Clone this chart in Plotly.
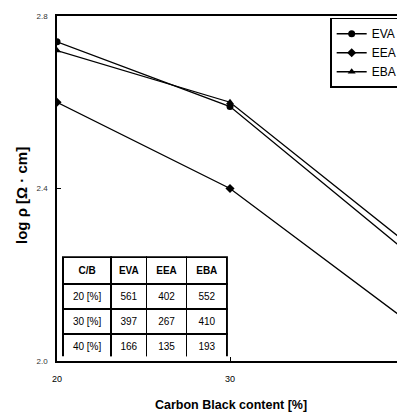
import plotly.graph_objects as go

carbon_black = [20, 30, 40]
eva = [2.74, 2.59, 2.26]
eea = [2.60, 2.40, 2.10]
eba = [2.72, 2.60, 2.28]

table_header = ["<b>C/B</b>", "<b>EVA</b>", "<b>EEA</b>", "<b>EBA</b>"]
table_cb = ["20 [%]", "30 [%]", "40 [%]"]
table_eva = [561, 397, 166]
table_eea = [402, 267, 135]
table_eba = [552, 410, 193]

fig = go.Figure()
series = [("EVA", eva, "circle"), ("EEA", eea, "diamond"), ("EBA", eba, "triangle-up")]
for name, vals, sym in series:
    fig.add_trace(go.Scatter(
        x=carbon_black, y=vals, name=name, mode="lines+markers",
        line=dict(color="black", width=1.3),
        marker=dict(symbol=sym, size=7, color="black"),
        cliponaxis=True,
    ))

fig.add_trace(go.Table(
    domain=dict(x=[0.017, 0.489], y=[0.012, 0.301]),
    columnwidth=[48, 35, 40, 40],
    header=dict(values=table_header, height=25, align="center",
                line=dict(color="black", width=1.5), fill=dict(color="white"),
                font=dict(family="Liberation Sans Narrow, Arial Narrow, Liberation Sans", size=10, color="black")),
    cells=dict(values=[table_cb, table_eva, table_eea, table_eba], height=25, align="center",
               line=dict(color="black", width=1.5), fill=dict(color="white"),
               font=dict(family="Liberation Sans Narrow, Arial Narrow, Liberation Sans", size=10, color="black")),
))

fig.update_layout(
    width=397, height=406,
    margin=dict(l=49, r=0, t=8, b=53),
    paper_bgcolor="white", plot_bgcolor="white",
    showlegend=True,
    legend=dict(x=0.785, y=0.995, xanchor="left", yanchor="top",
                bordercolor="black", borderwidth=1.5, bgcolor="white",
                font=dict(family="Liberation Sans", size=12, color="black"),
                tracegroupgap=0, itemwidth=30),
    xaxis=dict(range=[20, 40.115], tickvals=carbon_black, showgrid=False, zeroline=False,
               showline=True, linecolor="black", linewidth=1.5, mirror=True,
               ticks="inside", ticklen=4, tickcolor="black",
               ticklabelstandoff=8,
               tickfont=dict(family="Liberation Sans", size=9, color="black")),
    yaxis=dict(range=[2.0, 2.8], tickvals=[2.0, 2.4, 2.8], ticktext=["2.0", "2.4", "2.8"],
               showgrid=False, zeroline=False,
               showline=True, linecolor="black", linewidth=1.5,
               ticks="inside", ticklen=4, tickcolor="black",
               ticklabelstandoff=6,
               tickfont=dict(family="Liberation Sans", size=8, color="#333")),
    annotations=[
        dict(text="<b>Carbon Black content [%]</b>", xref="paper", yref="paper",
             x=(231 - 57) / 348, y=-(405 - 361) / 345, xanchor="center", yanchor="middle",
             showarrow=False, font=dict(family="Liberation Sans", size=12.5, color="black")),
        dict(text="<b>log ρ [Ω · cm]</b>", xref="paper", yref="paper",
             x=-(57 - 21) / 348, y=(361 - 196) / 345, xanchor="center", yanchor="middle",
             textangle=-90, showarrow=False,
             font=dict(family="Liberation Sans", size=15, color="black")),
    ],
)

fig.write_html("out.html")
